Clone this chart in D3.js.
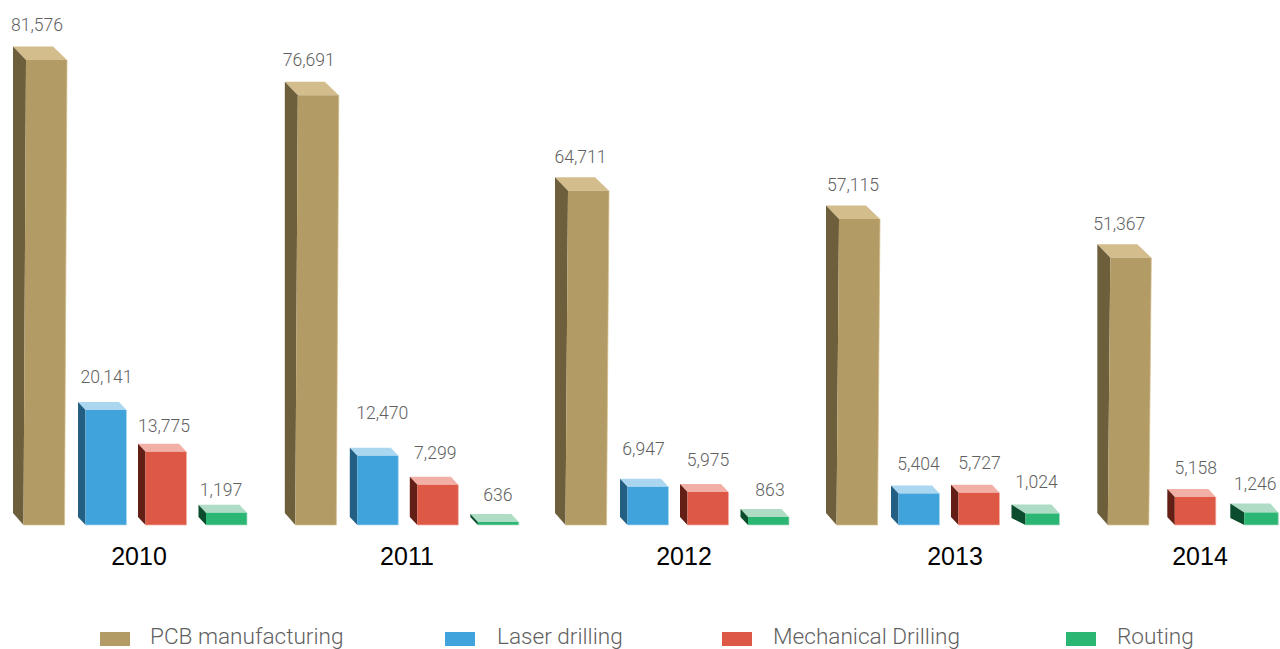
<!DOCTYPE html>
<html>
<head>
<meta charset="utf-8">
<title>Revenue by process, 2010-2014</title>
<script src="https://cdn.jsdelivr.net/npm/d3@7/dist/d3.min.js"></script>
<style>
  html, body { margin: 0; padding: 0; background: #fff; }
  svg { display: block; }
  text { opacity: 0.99; }
  .value { font-family: Roboto, sans-serif; font-weight: 300; font-size: 17.6px; fill: #5f5f5f; text-anchor: middle; }
  .year { font-family: "Liberation Sans", sans-serif; font-size: 25px; fill: #000; text-anchor: middle; }
  .legend-label { font-family: Roboto, sans-serif; font-weight: 300; font-size: 22.6px; fill: #5f5f5f; }
</style>
</head>
<body>
<script>
const years = ["2010", "2011", "2012", "2013", "2014"];
const seriesNames = ["PCB manufacturing", "Laser drilling", "Mechanical Drilling", "Routing"];

const pcbValues = [81576, 76691, 64711, 57115, 51367];
const laserValues = [20141, 12470, 6947, 5404, null];
const mechanicalValues = [13775, 7299, 5975, 5727, 5158];
const routingValues = [1197, 636, 863, 1024, 1246];
const seriesValues = [pcbValues, laserValues, mechanicalValues, routingValues];

// front, side and top faces of each series' block
const frontColors = ["#b39b65", "#40a3dc", "#dd5845", "#2bb673"];
const sideColors = ["#6e5f3c", "#235f82", "#631f16", "#0a4c2c"];
const topColors = ["#d3bd8c", "#abd6f0", "#f2afa5", "#aedcc5"];

// Bar height follows the publication's hand-drawn, slightly uneven vertical scale.
const heightKnots = [0, 636, 1024, 5158, 5404, 5975, 7299, 12470, 13775, 20141, 51367, 57115, 64711, 76691, 81576];
const heightPixels = [0, 3, 11.5, 28, 31.5, 33, 40.3, 69.3, 73.3, 115, 267.3, 306, 334.3, 429.7, 465];

// Left edge of each year group, and placement of each block inside it
const groupStarts = [13, 284.8, 555, 826, 1097.3];
const slotOffsets = [0, 65, 125, 185.5];
const lastYearSlots = [0, null, 70, 133];

// Value label nudges from the centre of the block's rear top edge, per series then year
const labelShiftX = [
  [4, 4, 5.5, 7, 2],
  [8, 12, 3, 7, 0],
  [5.5, 5, 7.5, 8, 8],
  [2, 7, 9, 5, 5]
];
const labelLift = [
  [22, 22.7, 21, 21, 20.7],
  [26, 35, 30, 22, 0],
  [18, 24, 25, 22, 21.5],
  [15, 20, 20, 23, 20]
];
const yearLabelShift = [126, 122.2, 129, 129, 102.7];
const legendSwatchX = [100, 445, 722, 1066];
const legendTextX = [150, 497, 773, 1117];

const width = 1280, height = 649, baseY = 525;

const x = d3.scaleLinear().domain(d3.range(years.length)).range(groupStarts);
const y = d3.scaleLinear().domain(heightKnots).range(heightPixels.map(p => baseY - p));

const svg = d3.select("body").append("svg").attr("width", width).attr("height", height);

// One block's dimensions: tall PCB blocks are deeper, and the routing blocks of
// the last two years are drawn with a wider side face.
function blockShape(s, yi) {
  if (s === 0) return { dx: 13, dy: 13.5, w: 41, lean: 2.5, rearDrop: 12, rearW: 40 };
  if (s === 3 && yi >= 3) return { dx: 14, dy: 9, w: 34, lean: 0, rearDrop: 7, rearW: 40 };
  return { dx: 7.5, dy: 8, w: 41, lean: 0, rearDrop: 8, rearW: 41 };
}

const bars = [];
seriesValues.forEach((vals, s) => vals.forEach((v, yi) => {
  if (v === null) return;
  const slot = yi === years.length - 1 ? lastYearSlots[s] : slotOffsets[s];
  bars.push({ s, yi, v, rearX: x(yi) + slot, shape: blockShape(s, yi) });
}));

const poly = pts => "M" + pts.map(p => p.join(",")).join("L") + "Z";
const groups = svg.selectAll("g.bar").data(bars).join("g").attr("class", "bar");

// top face
groups.append("path").attr("fill", d => topColors[d.s]).attr("d", d => {
  const t = y(d.v), sh = d.shape, fx = d.rearX + sh.dx;
  return poly([[d.rearX, t - sh.dy], [d.rearX + sh.rearW, t - sh.dy], [fx + sh.w, t], [fx, t]]);
});
// left side face
groups.append("path").attr("fill", d => sideColors[d.s]).attr("d", d => {
  const t = y(d.v), sh = d.shape, fx = d.rearX + sh.dx;
  return poly([[d.rearX, t - sh.dy], [fx, t], [fx - sh.lean, baseY], [d.rearX, baseY - sh.rearDrop]]);
});
// front face
groups.append("path").attr("fill", d => frontColors[d.s]).attr("d", d => {
  const t = y(d.v), sh = d.shape, fx = d.rearX + sh.dx;
  return poly([[fx, t], [fx + sh.w, t], [fx + sh.w - sh.lean, baseY], [fx - sh.lean, baseY]]);
});
// pale highlight along the right and bottom edges of the front face
groups.append("path").attr("fill", "none").attr("stroke", d => topColors[d.s]).attr("stroke-width", 1)
  .attr("stroke-opacity", 0.7)
  .attr("d", d => {
    const t = y(d.v), sh = d.shape, fx = d.rearX + sh.dx;
    return `M${fx + sh.w},${t}L${fx + sh.w - sh.lean},${baseY}L${fx - sh.lean},${baseY}`;
  });

// value labels
svg.selectAll("text.value").data(bars).join("text").attr("class", "value")
  .attr("x", d => d.rearX + d.shape.rearW / 2 + labelShiftX[d.s][d.yi])
  .attr("y", d => y(d.v) - d.shape.dy - labelLift[d.s][d.yi] + 6.5)
  .text(d => d3.format(",")(d.v));

// year labels
svg.selectAll("text.year").data(years).join("text").attr("class", "year")
  .attr("x", (d, i) => x(i) + yearLabelShift[i])
  .attr("y", 565)
  .text(d => d);

// legend
const legend = svg.selectAll("g.legend").data(seriesNames).join("g").attr("class", "legend");
legend.append("rect").attr("x", (d, i) => legendSwatchX[i]).attr("y", 632).attr("width", 30).attr("height", 14)
  .attr("fill", (d, i) => frontColors[i]);
legend.append("text").attr("class", "legend-label").attr("x", (d, i) => legendTextX[i]).attr("y", 644).text(d => d);
</script>
</body>
</html>
